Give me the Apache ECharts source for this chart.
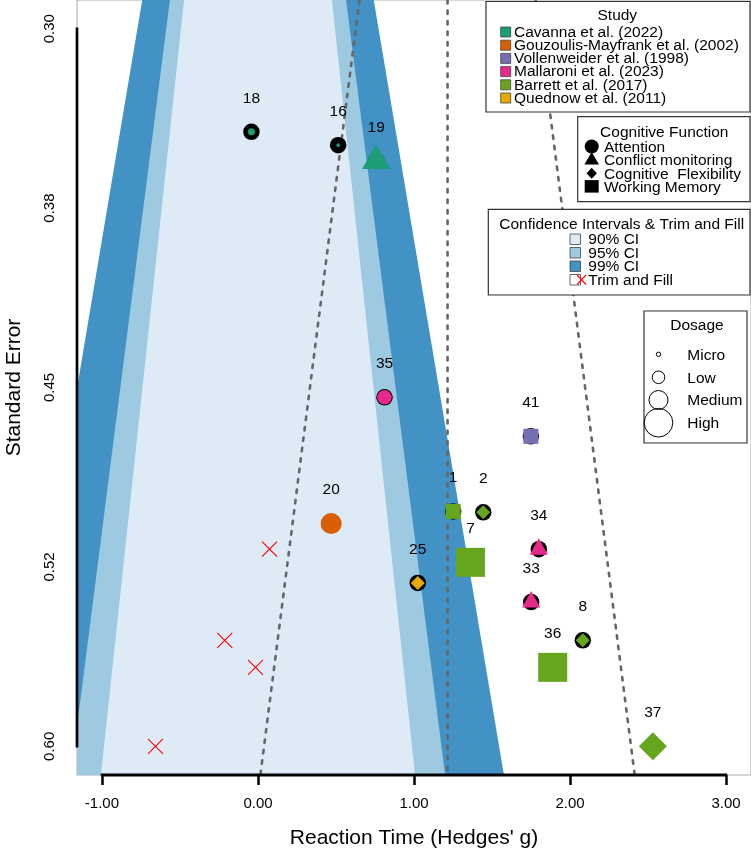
<!doctype html>
<html lang="en">
  <head>
    <meta charset="UTF-8" />
    <title>Funnel plot – Reaction Time (Hedges' g)</title>
    <script src="https://cdn.jsdelivr.net/npm/echarts@6/dist/echarts.min.js"></script>
    <style>
      html, body { margin: 0; padding: 0; background: #fff; }
      #main { width: 751px; height: 853px; }
    </style>
  </head>
  <body>
    <div id="main"></div>
    <script>
      // ---- data ----
      const ids = ["18", "16", "19", "35", "41", "1", "2", "20", "34", "7", "25", "33", "8", "36", "37"];
      const hedgesG = [-0.042, 0.514, 0.758, 0.811, 1.749, 1.251, 1.444, 0.469, 1.8, 1.362, 1.024, 1.751, 2.082, 1.889, 2.531];
      const stdErr = [0.3431, 0.3487, 0.3552, 0.4541, 0.4704, 0.5018, 0.5022, 0.5069, 0.5176, 0.5231, 0.5317, 0.5397, 0.5557, 0.567, 0.6];
      const study = [
        "Cavanna et al. (2022)", "Cavanna et al. (2022)", "Cavanna et al. (2022)",
        "Mallaroni et al. (2023)", "Vollenweider et al. (1998)", "Barrett et al. (2017)",
        "Barrett et al. (2017)", "Gouzoulis-Mayfrank et al. (2002)", "Mallaroni et al. (2023)",
        "Barrett et al. (2017)", "Quednow et al. (2011)", "Mallaroni et al. (2023)",
        "Barrett et al. (2017)", "Barrett et al. (2017)", "Barrett et al. (2017)"
      ];
      const cogFunction = [
        "Attention", "Cognitive  Flexibility", "Conflict monitoring", "Attention",
        "Working Memory", "Working Memory", "Cognitive  Flexibility", "Attention",
        "Conflict monitoring", "Working Memory", "Cognitive  Flexibility", "Conflict monitoring",
        "Cognitive  Flexibility", "Working Memory", "Cognitive  Flexibility"
      ];
      const dosage = ["Low", "Micro", "High", "Medium", "Medium", "Medium", "Medium", "High",
        "Medium", "High", "Medium", "Medium", "Medium", "High", "High"];

      // trim and fill (imputed) studies
      const trimFillG = [0.074, -0.213, -0.016, -0.657];
      const trimFillSE = [0.5176, 0.5557, 0.567, 0.6];

      // pooled estimate and contour levels
      const pooledEstimate = 1.215;
      const pseudoCiZ = 1.96;
      const contourLevels = ["99% CI", "95% CI", "90% CI"];
      const contourZ = [2.576, 1.96, 1.645];

      // axes
      const xTicks = [-1, 0, 1, 2, 3];
      const xTickLabels = ["-1.00", "0.00", "1.00", "2.00", "3.00"];
      const yTicks = [0.3, 0.375, 0.45, 0.525, 0.6];
      const yTickLabels = ["0.30", "0.38", "0.45", "0.52", "0.60"];
      const xMin = -1.16, xMax = 3.16, yMin = 0.288, yMax = 0.612;

      // legend entries
      const studies = ["Cavanna et al. (2022)", "Gouzoulis-Mayfrank et al. (2002)", "Vollenweider et al. (1998)",
        "Mallaroni et al. (2023)", "Barrett et al. (2017)", "Quednow et al. (2011)"];
      const functions = ["Attention", "Conflict monitoring", "Cognitive  Flexibility", "Working Memory"];
      const dosages = ["Micro", "Low", "Medium", "High"];

      // ---- styles ----
      const FONT = "Liberation Sans, Arial, sans-serif";
      const studyColors = ["#1B9E77", "#D95F02", "#7570B3", "#E7298A", "#66A61E", "#E6AB02"];
      const contourColors = { "99% CI": "#4292C6", "95% CI": "#9ECAE1", "90% CI": "#DEEBF7" };
      const fnSymbol = {
        "Attention": "circle",
        "Conflict monitoring": "triangle",
        "Cognitive  Flexibility": "diamond",
        "Working Memory": "rect"
      };
      // symbol pixel sizes per shape and dosage
      const sizeMap = {
        circle: { Micro: 4, Low: 7, Medium: 14.5, High: 21 },
        diamond: { Micro: 4.5, Low: 9, Medium: 14, High: 28 },
        rect: { Micro: 5, Low: 10, Medium: 15, High: 29 },
        triangle: { Micro: [6, 5], Low: [12, 10.5], Medium: [18, 16.5], High: [28.3, 24.5] }
      };

      const overlayData = hedgesG.map(function (g, i) {
        const sym = fnSymbol[cogFunction[i]];
        const size = sizeMap[sym][dosage[i]];
        const offset = sym === "triangle" ? [0, -size[1] / 6] : [0, 0];
        return {
          value: [g, stdErr[i]],
          symbol: sym,
          symbolSize: size,
          symbolOffset: offset,
          itemStyle: { color: studyColors[studies.indexOf(study[i])], opacity: 1 }
        };
      });

      function tickLabel(ticks, labels) {
        return function (v) {
          const i = ticks.findIndex(function (t) { return Math.abs(t - v) < 1e-9; });
          return i >= 0 ? labels[i] : "";
        };
      }

      const chart = echarts.init(document.getElementById("main"), null, { renderer: "canvas" });

      // ---- legend boxes (graphic) ----
      const graphics = [];
      function box(x, y, w, h) {
        graphics.push({ type: "rect", shape: { x: x, y: y, width: w, height: h },
          style: { fill: "#fff", stroke: "#333", lineWidth: 1.2 }, z: 100 });
      }
      function text(str, x, y, align) {
        graphics.push({ type: "text", z: 101,
          style: { text: str, x: x, y: y, fill: "#000", font: "15.5px " + FONT,
            align: align, verticalAlign: "middle", textAlign: align, textVerticalAlign: "middle" } });
      }

      // Study
      box(486, 1.5, 264, 110.5);
      text("Study", 617.3, 16, "center");
      studies.forEach(function (s, i) {
        const yy = 32.5 + 13.2 * i;
        graphics.push({ type: "rect", z: 101, shape: { x: 500.7, y: yy - 5.5, width: 10, height: 10 },
          style: { fill: studyColors[i], stroke: "#444", lineWidth: 0.8 } });
        text(s, 514, yy, "left");
      });

      // Cognitive Function
      box(577.7, 116.7, 172.3, 85);
      text("Cognitive Function", 664.3, 132.3, "center");
      const fnRows = [147.5, 160.5, 174.3, 187.3];
      functions.forEach(function (f, i) {
        const yy = fnRows[i], cx = 591.7;
        const sym = fnSymbol[f];
        if (sym === "circle") {
          graphics.push({ type: "circle", z: 101, shape: { cx: cx, cy: yy - 1, r: 7 }, style: { fill: "#000" } });
        } else if (sym === "triangle") {
          graphics.push({ type: "polygon", z: 101,
            shape: { points: [[cx, yy - 8.5], [cx + 7.3, yy + 4], [cx - 7.3, yy + 4]] }, style: { fill: "#000" } });
        } else if (sym === "diamond") {
          graphics.push({ type: "polygon", z: 101,
            shape: { points: [[cx, yy - 6.5], [cx + 5.2, yy - 1], [cx, yy + 4.5], [cx - 5.2, yy - 1]] }, style: { fill: "#000" } });
        } else {
          graphics.push({ type: "rect", z: 101, shape: { x: cx - 7, y: yy - 7.2, width: 14, height: 12.5 }, style: { fill: "#000" } });
        }
        text(f, 604, yy, "left");
      });

      // Confidence intervals & trim and fill
      box(488.3, 209.3, 261.7, 85.7);
      text("Confidence Intervals & Trim and Fill", 621.7, 225, "center");
      const ciRows = ["90% CI", "95% CI", "99% CI", "Trim and Fill"];
      ciRows.forEach(function (c, i) {
        const yy = 240 + 13.5 * i;
        graphics.push({ type: "rect", z: 101, shape: { x: 570, y: yy - 6, width: 10.5, height: 10.5 },
          style: { fill: contourColors[c] || "#fff", stroke: "#444", lineWidth: 0.8 } });
        if (c === "Trim and Fill") {
          graphics.push({ type: "polyline", z: 102, shape: { points: [[577, yy - 5.5], [586, yy + 4]] },
            style: { stroke: "#FF0000", lineWidth: 1.1 } });
          graphics.push({ type: "polyline", z: 102, shape: { points: [[586, yy - 5.5], [577, yy + 4]] },
            style: { stroke: "#FF0000", lineWidth: 1.1 } });
        }
        text(c, 588.3, yy, "left");
      });

      // Dosage
      box(644, 311, 103, 132);
      text("Dosage", 697, 325.3, "center");
      const doseRows = [354.3, 377.3, 400, 422.7];
      const doseR = [2.2, 6.3, 9.5, 14.3];
      dosages.forEach(function (d, i) {
        graphics.push({ type: "circle", z: 101, shape: { cx: 658.5, cy: doseRows[i], r: doseR[i] },
          style: { fill: "none", stroke: "#000", lineWidth: 1 } });
        text(d, 687.3, doseRows[i] + 1, "left");
      });

      const option = {
        animation: false,
        grid: {
          left: 77, right: 0, top: 0, bottom: 78,
          outerBoundsMode: "none",
          containLabel: false,
          show: true, borderColor: "#aaa", borderWidth: 1, backgroundColor: "transparent"
        },
        xAxis: {
          type: "value",
          min: xMin, max: xMax,
          name: "Reaction Time (Hedges' g)",
          nameLocation: "middle",
          nameGap: 53,
          nameTextStyle: { fontFamily: FONT, fontSize: 21, color: "#000" },
          axisLine: { show: false },
          splitLine: { show: false },
          axisTick: { show: true, customValues: xTicks, length: 10, lineStyle: { color: "#000", width: 2.5 } },
          axisLabel: {
            customValues: xTicks, formatter: tickLabel(xTicks, xTickLabels),
            fontFamily: FONT, fontSize: 15, color: "#000", margin: 21
          }
        },
        yAxis: {
          type: "value",
          inverse: true,
          min: yMin, max: yMax,
          name: "Standard Error",
          nameLocation: "middle",
          nameGap: 52,
          nameRotate: 90,
          nameTextStyle: { fontFamily: FONT, fontSize: 21, color: "#000" },
          axisLine: { show: false },
          splitLine: { show: false },
          axisTick: { show: true, customValues: yTicks, length: 10, lineStyle: { color: "#000", width: 2.5 } },
          axisLabel: {
            customValues: yTicks, formatter: tickLabel(yTicks, yTickLabels),
            rotate: 90, fontFamily: FONT, fontSize: 15, color: "#000", margin: 20
          }
        },
        graphic: { elements: graphics },
        series: [
          {
            // contour-enhanced funnel centred on zero
            type: "custom",
            clip: true,
            silent: true,
            z: 1,
            data: contourZ.map(function (z) { return [z, yMin]; }),
            renderItem: function (params, api) {
              const z = contourZ[params.dataIndex];
              const pts = [
                api.coord([-z * yMin, yMin]),
                api.coord([z * yMin, yMin]),
                api.coord([z * yMax, yMax]),
                api.coord([-z * yMax, yMax])
              ];
              return {
                type: "polygon",
                shape: { points: pts },
                style: { fill: contourColors[contourLevels[params.dataIndex]], stroke: null }
              };
            }
          },
          {
            type: "line",
            silent: true,
            z: 2,
            symbol: "none",
            data: [[pooledEstimate, yMin], [pooledEstimate, yMax]],
            lineStyle: { color: "#666", width: 2.6, type: [3.5, 7], cap: "round" }
          },
          {
            type: "line",
            silent: true,
            z: 2,
            symbol: "none",
            data: [[pooledEstimate - pseudoCiZ * yMin, yMin], [pooledEstimate - pseudoCiZ * yMax, yMax]],
            lineStyle: { color: "#666", width: 2.6, type: [3.5, 7], cap: "round" }
          },
          {
            type: "line",
            silent: true,
            z: 2,
            symbol: "none",
            data: [[pooledEstimate + pseudoCiZ * yMin, yMin], [pooledEstimate + pseudoCiZ * yMax, yMax]],
            lineStyle: { color: "#666", width: 2.6, type: [3.5, 7], cap: "round" }
          },
          {
            // R-style axis lines spanning first to last tick
            type: "custom",
            silent: true,
            z: 5,
            data: [[xTicks[0], yTicks[0]]],
            renderItem: function (params, api) {
              const xa = api.coord([xTicks[0], yMax]);
              const xb = api.coord([xTicks[xTicks.length - 1], yMax]);
              const ya = api.coord([xMin, yTicks[0]]);
              const yb = api.coord([xMin, yTicks[yTicks.length - 1]]);
              return {
                type: "group",
                children: [
                  { type: "line", shape: { x1: xa[0] - 1.2, y1: xa[1], x2: xb[0] + 1.2, y2: xb[1] },
                    style: { stroke: "#000", lineWidth: 3 } },
                  { type: "line", shape: { x1: ya[0], y1: ya[1] - 1.2, x2: yb[0], y2: yb[1] + 1.2 },
                    style: { stroke: "#000", lineWidth: 2.7 } }
                ]
              };
            }
          },
          {
            // black base points with study numbers
            type: "scatter",
            silent: true,
            z: 3,
            symbol: "circle",
            symbolSize: 16.5,
            itemStyle: { color: "#000", opacity: 1 },
            data: hedgesG.map(function (g, i) { return [g, stdErr[i]]; }),
            label: {
              show: true,
              position: "inside",
              offset: [0, -33.5],
              formatter: function (p) { return ids[p.dataIndex]; },
              fontFamily: FONT,
              fontSize: 15.5,
              color: "#000"
            }
          },
          {
            type: "scatter",
            silent: true,
            z: 4,
            itemStyle: { opacity: 1 },
            data: overlayData
          },
          {
            type: "scatter",
            silent: true,
            z: 4,
            symbol: "path://M0,0L10,10M10,0L0,10",
            symbolSize: 15,
            itemStyle: { color: "none", borderColor: "#FF0000", borderWidth: 1.1, opacity: 1 },
            data: trimFillG.map(function (g, i) { return [g, trimFillSE[i]]; })
          }
        ]
      };

      chart.setOption(option);
    </script>
  </body>
</html>
